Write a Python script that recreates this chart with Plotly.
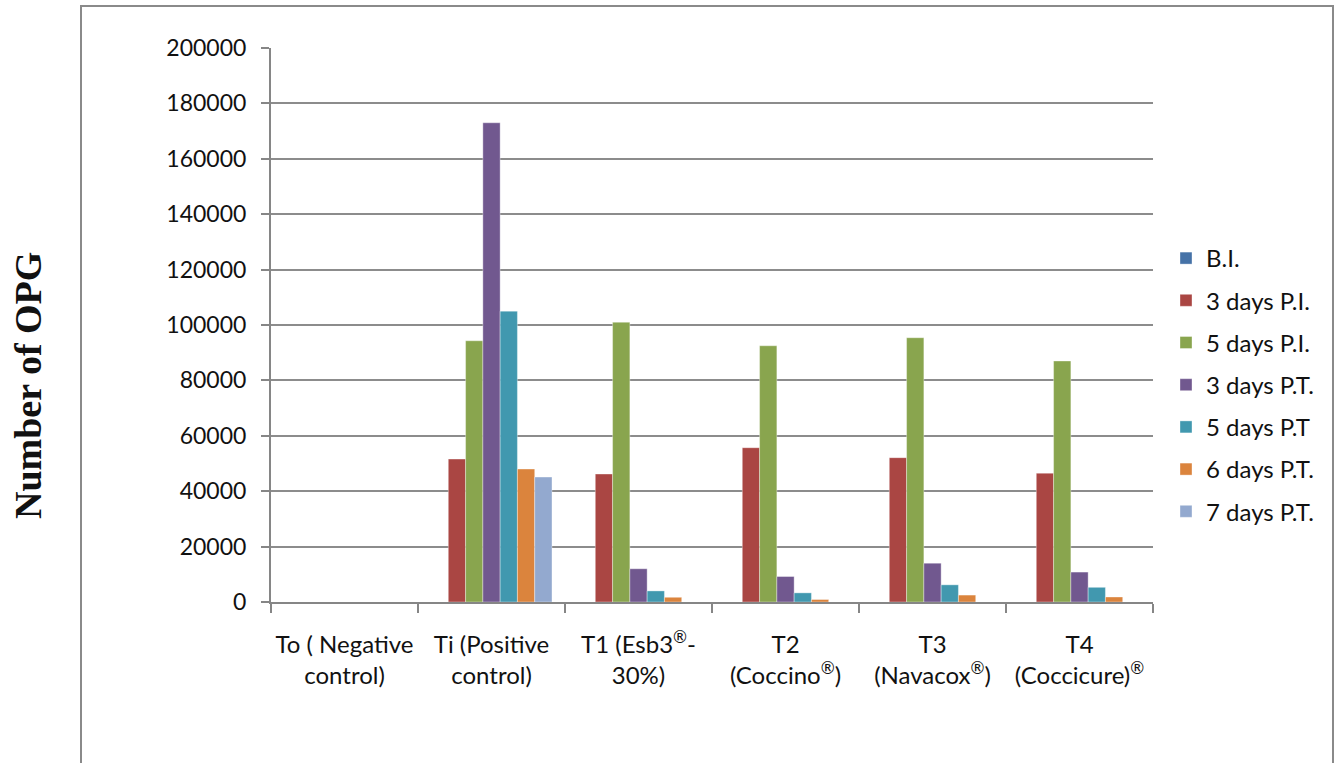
import plotly.graph_objects as go

# Treatment groups (x categories)
groups = [
    "To ( Negative<br>control)",
    "Ti (Positive<br>control)",
    "T1 (Esb3<sup>®</sup>-<br>30%)",
    "T2<br>(Coccino<sup>®</sup>)",
    "T3<br>(Navacox<sup>®</sup>)",
    "T4<br>(Coccicure)<sup>®</sup>",
]

# Oocysts per gram at each sampling time
bi = [0, 0, 0, 0, 0, 0]
d3_pi = [0, 51600, 46200, 55700, 52100, 46500]
d5_pi = [0, 94300, 101000, 92500, 95400, 87000]
d3_pt = [0, 173000, 12000, 9200, 14000, 10800]
d5_pt = [0, 105000, 4000, 3300, 6200, 5300]
d6_pt = [0, 48000, 1700, 900, 2500, 1800]
d7_pt = [0, 45100, 0, 0, 0, 0]

series_names = ["B.I.", "3 days P.I.", "5 days P.I.", "3 days P.T.",
                "5 days P.T", "6 days P.T.", "7 days P.T."]
series_values = [bi, d3_pi, d5_pi, d3_pt, d5_pt, d6_pt, d7_pt]
colors = ["#4572A7", "#AA4643", "#89A54E", "#71588F",
          "#4198AF", "#DB843D", "#93A9CF"]

y_ticks = list(range(0, 200001, 20000))

W, H = 1341, 763
L, R, T, B = 271, 1153, 48, 602  # plot area in pixels
FONT = "Lato, 'Open Sans', sans-serif"

fig = go.Figure()
for i, (name, vals, col) in enumerate(zip(series_names, series_values, colors)):
    fig.add_trace(go.Bar(
        x=groups, y=vals, name=name, legendgroup=f"g{i}",
        marker=dict(color=col, line=dict(color="rgba(255,255,255,0.6)", width=0.6)),
    ))

def px_x(px):
    return (px - L) / (R - L)

def px_y(py):
    return (B - py) / (B - T)

fig.update_layout(
    width=W, height=H,
    margin=dict(l=L, r=W - R, t=T, b=H - B, pad=0),
    paper_bgcolor="white", plot_bgcolor="white",
    barmode="group", bargap=0.177, bargroupgap=0,
    font=dict(family=FONT, size=23, color="#111111"),
    showlegend=True,
    legend=dict(
        x=px_x(1166), xanchor="left", y=px_y(236), yanchor="top",
        font=dict(family=FONT, size=24, color="#111111"),
        tracegroupgap=8, itemwidth=30, bgcolor="rgba(0,0,0,0)",
    ),
    xaxis=dict(
        type="category", showgrid=False, showline=True,
        linecolor="#868686", linewidth=2,
        ticks="outside", tickson="boundaries", ticklen=9, tickwidth=2,
        tickcolor="#868686", ticklabelstandoff=20, tickangle=0,
        tickfont=dict(family=FONT, size=24, color="#111111"),
    ),
    yaxis=dict(
        range=[0, 200000], tickvals=y_ticks, tickformat="d",
        showgrid=True, gridcolor="#8c8c8c", gridwidth=2,
        showline=True, linecolor="#868686", linewidth=2,
        ticks="outside", ticklen=8, tickwidth=2, tickcolor="#868686",
        ticklabelstandoff=10, zeroline=False,
        tickfont=dict(family=FONT, size=23, color="#111111"),
    ),
    shapes=[
        dict(type="rect", xref="paper", yref="paper",
             x0=px_x(81), x1=px_x(1333), y0=px_y(820), y1=px_y(6),
             line=dict(color="#8a8a8a", width=2), fillcolor="rgba(0,0,0,0)",
             layer="below"),
    ],
    annotations=[
        dict(text="<b>Number of OPG</b>", xref="paper", yref="paper",
             x=px_x(28), y=px_y(386), xanchor="center", yanchor="middle",
             textangle=-90, showarrow=False,
             font=dict(family="'Liberation Serif', 'Times New Roman', serif",
                       size=38, color="#111111")),
    ],
)

fig.write_html("out.html")
